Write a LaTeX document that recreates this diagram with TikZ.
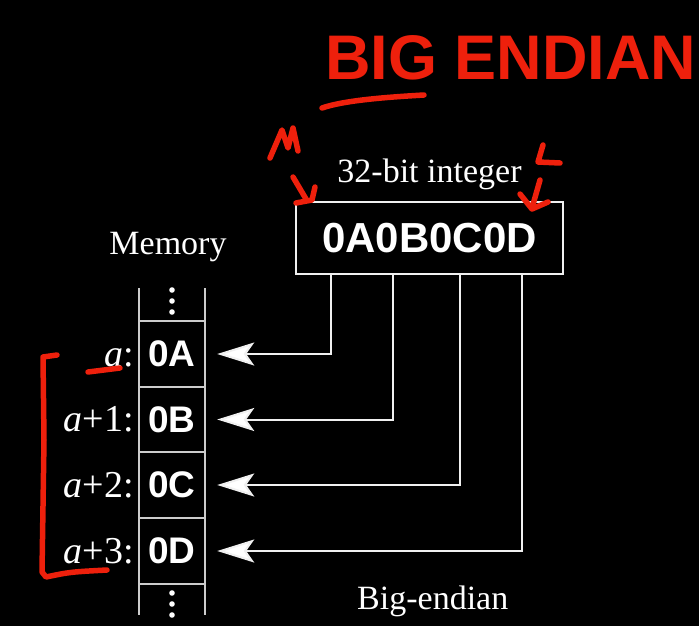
\documentclass[tikz,border=0pt]{standalone}
\usepackage{fontspec}
\setmainfont{Liberation Serif}
\newfontfamily\hexfont{Liberation Sans}
\usetikzlibrary{arrows.meta}
\definecolor{ink}{RGB}{240,240,240}
\definecolor{pen}{RGB}{238,32,12}
\begin{document}
\begin{tikzpicture}[x=1pt,y=-1pt,
  lbl/.style={font=\fontsize{34}{40}\selectfont, text=white, inner sep=0pt},
  addr/.style={font=\fontsize{38}{42}\selectfont, text=white, inner sep=0pt},
  hex/.style={font=\hexfont\bfseries\fontsize{37}{40}\selectfont, text=white, inner sep=0pt},
  cell/.style={hex, minimum width=66pt, minimum height=65.5pt},
  conn/.style={draw=ink, line width=2pt, -{Stealth[length=37pt,width=23pt,inset=8pt,fill=white]}},
  col/.style={draw=ink!85!black, line width=1.5pt},
  redpen/.style={draw=pen, line width=5.5pt, line cap=round, line join=round}]
\fill[black] (0,0) rectangle (699,626);
\useasboundingbox (0,0) rectangle (699,626);

% title
\node[font=\hexfont\bfseries\fontsize{63}{70}\selectfont, text=pen, anchor=base west, inner sep=0pt] (big) at (325,80) {BIG ENDIAN};

% memory column
\draw[col] (139,288) -- (139,615);
\draw[col] (205,288) -- (205,615);
\foreach \yy in {321,387,452,518,584} \draw[col] (139,\yy) -- (205,\yy);
\foreach \yy in {290,301,312,593,604,615} \fill[white] (172,\yy) circle (2.8pt);

\node[cell] (c1) at (172,354) {0A};
\node[cell] (c2) at (172,419.5) {0B};
\node[cell] (c3) at (172,485) {0C};
\node[cell] (c4) at (172,551) {0D};

\node[addr, anchor=base east] (l1) at (134,366) {\textit{a}:};
\node[addr, anchor=base east] (l2) at (134,431.5) {\textit{a}+1:};
\node[addr, anchor=base east] (l3) at (134,497) {\textit{a}+2:};
\node[addr, anchor=base east] (l4) at (134,563) {\textit{a}+3:};

\node[lbl, anchor=base] (mem) at (168,254) {Memory};
\node[lbl, anchor=base] (ti) at (429.5,182) {32-bit integer};
\node[lbl, anchor=base west] (be) at (357,609) {Big-endian};

% integer box
\node[draw=ink, line width=2pt, minimum width=267pt, minimum height=72pt, inner sep=0pt,
      text=white, font=\hexfont\bfseries\fontsize{42}{46}\selectfont] (int) at (429.5,238) {0A0B0C0D};

\coordinate (t1) at (331,274);
\coordinate (t2) at (392.5,274);
\coordinate (t3) at (459.5,274);
\coordinate (t4) at (522,274);

\draw[conn] (t1) |- ([xshift=12pt]c1.east);
\draw[conn] (t2) |- ([xshift=12pt]c2.east);
\draw[conn] (t3) |- ([xshift=12pt]c3.east);
\draw[conn] (t4) |- ([xshift=12pt]c4.east);

% red pen annotations
\draw[redpen] (322,108) .. controls (345,100) and (390,97) .. (424,95);
\draw[redpen] (270,158) -- (282,130) -- (288,148) -- (293,128) -- (298,151);
\draw[redpen] (293,177) -- (306,199);
\draw[redpen] (296,203) -- (312,200) -- (315,187);
\draw[redpen] (543,145) -- (538,162) -- (560,163);
\draw[redpen] (540,180) -- (532,208);
\draw[redpen] (520,194) -- (532,209) -- (548,202);
\draw[redpen] (57,355) -- (43,357) -- (44,440) -- (42,572) -- (46,577) .. controls (70,572) .. (107,570);
\draw[redpen] (88,372) -- (120,368);
\end{tikzpicture}
\end{document}
